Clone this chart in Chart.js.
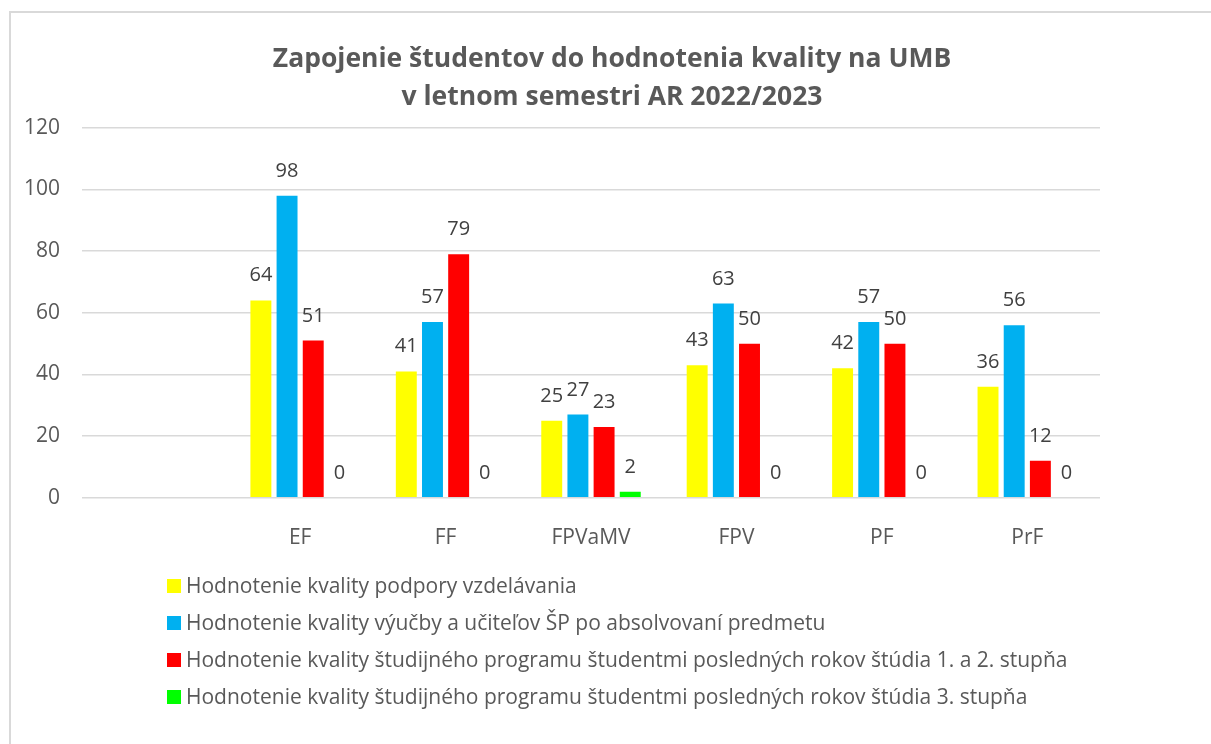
<!DOCTYPE html>
<html lang="sk">
<head>
<meta charset="UTF-8">
<title>Zapojenie študentov do hodnotenia kvality na UMB</title>
<script src="https://cdn.jsdelivr.net/npm/chart.js@4"></script>
<style>
  html, body { margin: 0; padding: 0; background: #fff; overflow: hidden; }
  .wrap { position: relative; width: 1211px; height: 744px; }
  .frame { position: absolute; left: 9px; top: 11px; width: 1220px; height: 760px; border: 2px solid #d9d9d9; box-sizing: border-box; pointer-events: none; }
  canvas { position: absolute; left: 0; top: 0; }
  #legend { position: absolute; left: 167px; top: 567px; font-family: "Open Sans", sans-serif; font-size: 21px; color: #595959; }
  #legend div { height: 37px; line-height: 37px; white-space: nowrap; display: flex; align-items: center; }
  #legend span.box { width: 14px; height: 14px; margin-right: 5px; display: inline-block; }
</style>
</head>
<body>
<div class="wrap">
  <canvas id="c" width="1211" height="744"></canvas>
  <div id="legend"></div>
  <div class="frame"></div>
</div>
<script>
// ---------- Data ----------
const TITLE = ['Zapojenie študentov do hodnotenia kvality na UMB', 'v letnom semestri AR 2022/2023'];
const CATEGORIES = ['', 'EF', 'FF', 'FPVaMV', 'FPV', 'PF', 'PrF'];
const SERIES_NAMES = [
  'Hodnotenie kvality podpory vzdelávania',
  'Hodnotenie kvality výučby a učiteľov ŠP po absolvovaní predmetu',
  'Hodnotenie kvality študijného programu študentmi posledných rokov štúdia 1. a 2. stupňa',
  'Hodnotenie kvality študijného programu študentmi posledných rokov štúdia 3. stupňa',
];
const PODPORA   = [null, 64, 41, 25, 43, 42, 36];
const VYUCBA    = [null, 98, 57, 27, 63, 57, 56];
const PROGRAM12 = [null, 51, 79, 23, 50, 50, 12];
const PROGRAM3  = [null, 0, 0, 2, 0, 0, 0];
const COLORS = ['#ffff00', '#00b0f0', '#ff0000', '#00ff00'];

const FONT = '"Open Sans", sans-serif';
const TEXT = '#595959';

// value labels above bars
const valueLabels = {
  id: 'valueLabels',
  afterDatasetsDraw(chart) {
    const ctx = chart.ctx;
    ctx.save();
    ctx.font = `20px ${FONT}`;
    ctx.fillStyle = '#404040';
    ctx.textAlign = 'center';
    ctx.textBaseline = 'alphabetic';
    chart.data.datasets.forEach((ds, i) => {
      chart.getDatasetMeta(i).data.forEach((bar, j) => {
        const v = ds.data[j];
        if (v == null) return;
        ctx.fillText(String(v), bar.x, bar.y - 19);
      });
    });
    ctx.restore();
  },
};

// html legend, one item per row
const htmlLegend = {
  id: 'htmlLegend',
  afterUpdate(chart) {
    const box = document.getElementById('legend');
    box.innerHTML = '';
    chart.data.datasets.forEach(ds => {
      const row = document.createElement('div');
      const sw = document.createElement('span');
      sw.className = 'box';
      sw.style.background = ds.backgroundColor;
      row.appendChild(sw);
      row.appendChild(document.createTextNode(ds.label));
      box.appendChild(row);
    });
  },
};

const datasets = [PODPORA, VYUCBA, PROGRAM12, PROGRAM3].map((data, i) => ({
  label: SERIES_NAMES[i],
  data,
  backgroundColor: COLORS[i],
  borderWidth: 0,
  categoryPercentage: 0.72,
  barPercentage: 0.8,
}));

new Chart(document.getElementById('c'), {
  type: 'bar',
  data: { labels: CATEGORIES, datasets },
  options: {
    responsive: false,
    animation: false,
    layout: { padding: { left: 13, right: 0, top: 41, bottom: 173 } },
    plugins: {
      legend: { display: false },
      tooltip: { enabled: false },
      title: {
        display: true,
        text: TITLE,
        color: TEXT,
        font: { family: FONT, size: 26.5, weight: 'bold', lineHeight: 1.43 },
        padding: { top: 0, bottom: 11 },
      },
    },
    scales: {
      x: {
        grid: { display: false },
        border: { display: false },
        ticks: { color: TEXT, font: { family: FONT, size: 21 }, padding: 20 },
      },
      y: {
        min: 0,
        max: 120,
        ticks: { stepSize: 20, color: TEXT, font: { family: FONT, size: 21 }, padding: 22 },
        grid: { color: '#d9d9d9', lineWidth: 1.5, drawTicks: false },
        border: { display: false },
        afterFit(scale) { scale.width = 69; },
      },
      yr: {
        position: 'right',
        display: true,
        ticks: { display: false },
        grid: { display: false, drawTicks: false },
        border: { display: false },
        afterFit(scale) { scale.width = 111; },
      },
    },
  },
  plugins: [valueLabels, htmlLegend],
});
</script>
</body>
</html>
